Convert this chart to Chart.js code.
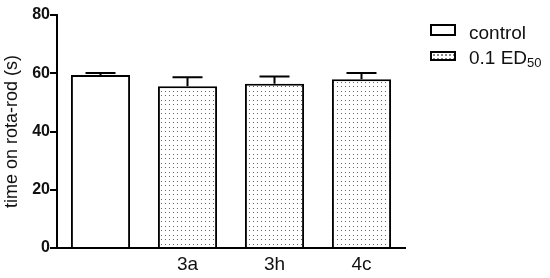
<!DOCTYPE html>
<html>
<head>
<meta charset="utf-8">
<script src="https://cdn.jsdelivr.net/npm/chart.js@4"></script>
<style>
  html, body { margin: 0; padding: 0; background: #fff; }
  #wrap { position: relative; width: 550px; height: 278px; }
  .key { position: absolute; left: 430px; width: 26px; box-sizing: border-box; border: 2px solid #000; }
  .lbl { position: absolute; left: 469px; font: 19px "Liberation Sans", Arial, sans-serif; color: #111; line-height: 22px; white-space: nowrap; }
  .dots {
    background-color: #fff;
    background-image: radial-gradient(circle, #444 0.6px, transparent 0.9px);
    background-size: 4px 4px;
  }
</style>
</head>
<body>
<div id="wrap">
  <canvas id="rotarod" width="550" height="278"></canvas>
  <div class="key" style="top:24px;height:12px;background:#fff"></div>
  <div class="lbl" style="top:22px">control</div>
  <div class="key dots" style="top:51px;height:10px"></div>
  <div class="lbl" style="top:47px">0.1 ED<sub style="font-size:13px;vertical-align:-3px">50</sub></div>
</div>
<script>
// values (mean and upper error, seconds)
const categories = ["", "3a", "3h", "4c"];
const means = [59.4, 55.5, 56.4, 57.9];
const errors = [0.7, 3.1, 2.5, 2.2];
const yTicks = [0, 20, 40, 60, 80];

// dotted fill like the stippled bars
function makeDots() {
  const c = document.createElement('canvas');
  c.width = 4; c.height = 9;
  const g = c.getContext('2d');
  g.fillStyle = '#fff';
  g.fillRect(0, 0, 4, 9);
  g.fillStyle = '#666';
  g.fillRect(1, 1, 1, 1);
  g.fillRect(1, 5, 1, 1);
  return g.createPattern(c, 'repeat');
}
const dots = makeDots();

// upward-only error whiskers with a cap
const errorBars = {
  id: 'errorBars',
  afterDatasetsDraw(chart) {
    const ctx = chart.ctx;
    const y = chart.scales.y;
    const meta = chart.getDatasetMeta(0);
    ctx.save();
    ctx.strokeStyle = '#000';
    ctx.lineWidth = 2;
    meta.data.forEach((bar, i) => {
      const top = y.getPixelForValue(means[i]);
      const hi = y.getPixelForValue(means[i] + errors[i]);
      ctx.beginPath();
      ctx.moveTo(bar.x, top);
      ctx.lineTo(bar.x, hi);
      ctx.moveTo(bar.x - 15, hi);
      ctx.lineTo(bar.x + 15, hi);
      ctx.stroke();
    });
    ctx.restore();
  }
};

const ctx = document.getElementById('rotarod').getContext('2d');
const rotarodChart = new Chart(ctx, {
  type: 'bar',
  data: {
    labels: categories,
    datasets: [{
      data: means,
      backgroundColor: means.map((v, i) => i === 0 ? '#fff' : dots),
      borderColor: '#000',
      borderWidth: 2,
      borderSkipped: 'bottom',
      categoryPercentage: 1,
      barPercentage: 0.68
    }]
  },
  options: {
    responsive: false,
    animation: false,
    layout: { padding: { left: 0, right: 145, top: 15, bottom: 0 } },
    plugins: {
      legend: { display: false },
      tooltip: { enabled: false }
    },
    scales: {
      x: {
        grid: { display: false },
        border: { display: true, color: '#000', width: 2 },
        ticks: {
          color: '#111',
          padding: -3,
          font: { family: '"Liberation Sans", Arial, sans-serif', size: 19 }
        },
        afterFit: (s) => { s.height = 30; }
      },
      y: {
        min: 0,
        max: 80,
        afterBuildTicks: (s) => { s.ticks = yTicks.map(v => ({ value: v })); },
        grid: { drawOnChartArea: false, color: '#000', lineWidth: 2, tickLength: 7 },
        border: { display: true, color: '#000', width: 2 },
        ticks: {
          color: '#111',
          padding: 0,
          font: { family: '"Liberation Sans", Arial, sans-serif', size: 16, weight: 'bold' }
        },
        title: {
          display: true,
          text: 'time on rota-rod (s)',
          color: '#111',
          padding: { top: 1, bottom: 0 },
          font: { family: '"Liberation Sans", Arial, sans-serif', size: 18 }
        },
        afterFit: (s) => { s.width = 57; }
      }
    }
  },
  plugins: [errorBars]
});
</script>
</body>
</html>
